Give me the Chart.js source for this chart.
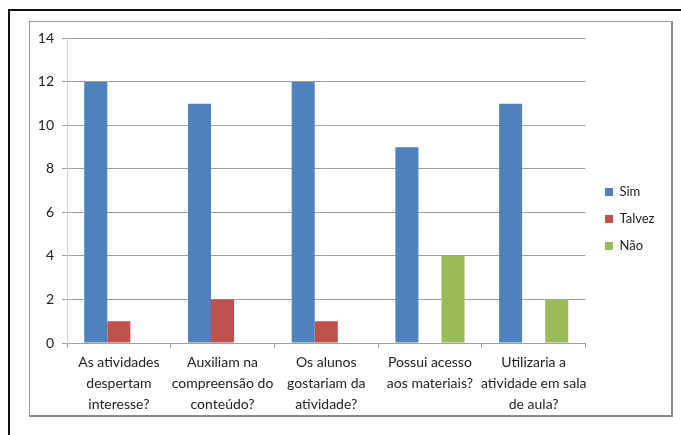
<!DOCTYPE html>
<html>
<head>
<meta charset="utf-8">
<script src="https://cdn.jsdelivr.net/npm/chart.js@4.4.0/dist/chart.umd.min.js"></script>
<style>
  body { margin: 0; background: #fff; width: 681px; height: 435px; overflow: hidden; position: relative; }
  #frame { position: absolute; left: 8px; top: 9px; width: 700px; height: 500px; border-left: 2px solid #111; border-top: 2px solid #111; }
  #box { position: absolute; left: 29px; top: 21px; width: 644px; height: 396px; box-sizing: border-box;
         border: 1px solid #999; border-right: 2px solid #8a8a8a; border-bottom: 2px solid #8a8a8a; }
  #wrap { position: absolute; left: 30px; top: 22px; width: 642px; height: 394px; }
</style>
</head>
<body>
<div id="frame"></div>
<div id="box"></div>
<div id="wrap"><canvas id="myChart"></canvas></div>
<script>
var categories = [
  ['As atividades', 'despertam', 'interesse?'],
  ['Auxiliam na', 'compreensão do', 'conteúdo?'],
  ['Os alunos', 'gostariam da', 'atividade?'],
  ['Possui acesso', 'aos materiais?'],
  ['Utilizaria a', 'atividade em sala', 'de aula?']
];
var seriesNames = ['Sim', 'Talvez', 'Não'];
var sim = [12, 11, 12, 9, 11];
var talvez = [1, 2, 1, 0, 0];
var nao = [0, 0, 0, 4, 2];
var yTicks = [0, 2, 4, 6, 8, 10, 12, 14];
var colors = ['#4F81BD', '#C0504D', '#9BBB59'];

var fontFam = 'Lato, "Liberation Sans", sans-serif';

// move the legend a bit, like in the original
var legendShift = {
  id: 'legendShift',
  afterLayout: function (chart) {
    var lg = chart.legend;
    var w = lg.width;
    lg.left = 561;
    lg.right = 561 + w;
    lg.top -= 8;
    lg.bottom -= 8;
  }
};

var ctx = document.getElementById('myChart');
var myChart = new Chart(ctx, {
  type: 'bar',
  data: {
    labels: categories,
    datasets: [
      { label: seriesNames[0], data: sim, backgroundColor: colors[0] },
      { label: seriesNames[1], data: talvez, backgroundColor: colors[1] },
      { label: seriesNames[2], data: nao, backgroundColor: colors[2] }
    ]
  },
  options: {
    responsive: true,
    maintainAspectRatio: false,
    animation: false,
    barPercentage: 1,
    categoryPercentage: 0.667,
    layout: { padding: { top: 16, right: 13, left: 0, bottom: 0 } },
    plugins: {
      tooltip: { enabled: false },
      legend: {
        position: 'right',
        labels: {
          boxWidth: 8,
          boxHeight: 8,
          padding: 14,
          color: '#222',
          font: { family: fontFam, size: 13 }
        }
      }
    },
    scales: {
      x: {
        grid: { display: true, drawOnChartArea: false, drawTicks: true, tickLength: 5, color: '#a0a0a0', offset: true },
        border: { color: '#a0a0a0' },
        ticks: {
          color: '#222',
          maxRotation: 0,
          autoSkip: false,
          padding: 4,
          font: { family: fontFam, size: 14, lineHeight: 1.5 }
        },
        afterFit: function (scale) { scale.height = 73; }
      },
      y: {
        min: 0,
        max: 14,
        afterBuildTicks: function (scale) {
          scale.ticks = yTicks.map(function (v) { return { value: v }; });
        },
        grid: { color: '#a0a0a0', tickLength: 5 },
        border: { color: '#d0d0d0' },
        ticks: {
          color: '#222',
          padding: 8,
          font: { family: fontFam, size: 14 }
        },
        afterFit: function (scale) { scale.width = 37; }
      }
    }
  },
  plugins: [legendShift]
});
</script>
</body>
</html>
